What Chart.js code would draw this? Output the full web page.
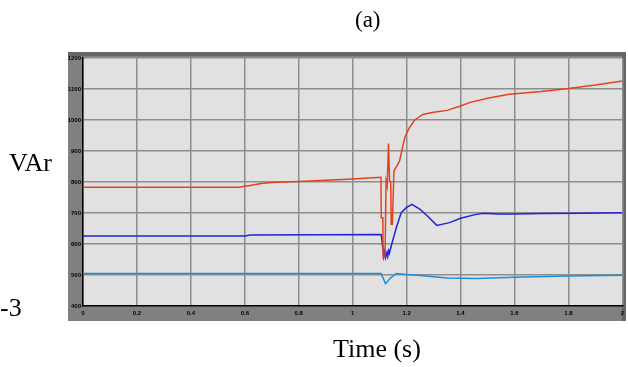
<!DOCTYPE html>
<html>
<head>
<meta charset="utf-8">
<script src="https://cdn.jsdelivr.net/npm/chart.js@4.4.0/dist/chart.umd.min.js"></script>
<style>
  html, body { margin: 0; padding: 0; background: #fff; }
  #wrap { position: relative; width: 628px; height: 367px; overflow: hidden; }
  #grafico { position: absolute; left: 0; top: 0; }
  .rotulo { position: absolute; font-family: "Liberation Serif", "Times New Roman", serif; color: #000; line-height: 1; white-space: nowrap; }
</style>
</head>
<body>
<div id="wrap">
  <canvas id="grafico" width="628" height="367"></canvas>
  <div class="rotulo" style="left:355px; top:8px; font-size:23px;">(a)</div>
  <div class="rotulo" style="left:9px; top:150px; font-size:26px;">VAr</div>
  <div class="rotulo" style="left:0px; top:295px; font-size:26px;">-3</div>
  <div class="rotulo" style="left:333px; top:336px; font-size:26px;">Time (s)</div>
</div>
<script>
// ===== DADOS =====
const xTicks = [0, 0.2, 0.4, 0.6, 0.8, 1, 1.2, 1.4, 1.6, 1.8, 2];
const yTicks = [400, 500, 600, 700, 800, 900, 1000, 1100, 1200];

// curva vermelha
const tempoVermelho = [0, 0.58, 0.6, 0.62, 0.66, 0.7, 0.8, 0.9, 1.0, 1.105, 1.106, 1.112, 1.113, 1.12, 1.124, 1.128, 1.133, 1.137, 1.141, 1.143, 1.147, 1.153, 1.174, 1.193, 1.21, 1.23, 1.26, 1.3, 1.35, 1.4, 1.433, 1.5, 1.58, 1.7, 1.8, 1.9, 2.0];
const valorVermelho = [783, 783, 786, 789, 795, 798, 802, 806, 810, 815, 685, 685, 556, 558, 803, 787, 924, 803, 800, 664, 664, 835, 868, 943, 975, 1000, 1018, 1025, 1031, 1045, 1056, 1070, 1083, 1092, 1102, 1113, 1126];

// curva azul
const tempoAzul = [0, 0.6, 0.62, 1.1, 1.106, 1.11, 1.115, 1.118, 1.122, 1.127, 1.13, 1.133, 1.136, 1.145, 1.162, 1.18, 1.2, 1.22, 1.25, 1.28, 1.312, 1.359, 1.4, 1.45, 1.483, 1.54, 1.6, 1.7, 1.85, 2.0];
const valorAzul = [626, 626, 629, 631, 630, 600, 560, 575, 556, 572, 560, 578, 570, 600, 653, 701, 718, 728, 712, 688, 660, 669, 683, 694, 699, 697, 697, 698, 699, 701];

// curva ciano
const tempoCiano = [0, 1.105, 1.122, 1.14, 1.162, 1.2, 1.25, 1.3, 1.35, 1.46, 1.6, 1.8, 2.0];
const valorCiano = [505, 505, 472, 490, 505, 502, 498, 494, 490, 489, 493, 497, 499];

const pontos = (xs, ys) => xs.map((x, i) => ({ x, y: ys[i] }));

// ===== FUNDO (moldura cinza + área do gráfico) =====
const fundoPlugin = {
  id: 'fundo',
  beforeDraw(chart) {
    const c = chart.ctx;
    const a = chart.chartArea;
    c.save();
    c.fillStyle = '#808080';
    c.fillRect(68, 52, 558, 269);
    c.fillStyle = '#666';
    c.fillRect(68, 52, 558, 4);
    c.fillRect(622, 52, 4, 269);
    c.fillStyle = '#e1e1e1';
    c.fillRect(a.left, a.top, a.right - a.left, a.bottom - a.top);
    c.restore();
  }
};

const ctx = document.getElementById('grafico');
new Chart(ctx, {
  type: 'line',
  data: {
    datasets: [
      { data: pontos(tempoVermelho, valorVermelho), borderColor: '#e2431e', borderWidth: 1.5 },
      { data: pontos(tempoAzul, valorAzul), borderColor: '#2222d6', borderWidth: 1.5 },
      { data: pontos(tempoCiano, valorCiano), borderColor: '#1c8fd6', borderWidth: 1.5 }
    ]
  },
  options: {
    responsive: false,
    animation: false,
    parsing: true,
    elements: { point: { radius: 0 }, line: { tension: 0 } },
    layout: { padding: { left: 68, right: 5, top: 58, bottom: 46 } },
    plugins: { legend: { display: false }, tooltip: { enabled: false }, title: { display: false } },
    scales: {
      x: {
        type: 'linear', min: 0, max: 2,
        afterBuildTicks: s => { s.ticks = xTicks.map(v => ({ value: v })); },
        afterFit: s => { s.height = 15; },
        ticks: { color: '#000', font: { family: 'Arial', size: 6, weight: 'bold' }, padding: 4, maxRotation: 0, callback: v => String(v) },
        grid: { color: '#8e8e8e', lineWidth: 1.5, drawTicks: false },
        border: { color: '#000', width: 1.5 }
      },
      y: {
        type: 'linear', min: 400, max: 1200,
        afterBuildTicks: s => { s.ticks = yTicks.map(v => ({ value: v })); },
        afterFit: s => { s.width = 15; },
        ticks: { color: '#000', font: { family: 'Arial', size: 6, weight: 'bold' }, padding: 2, callback: v => String(v) },
        grid: { color: '#8e8e8e', lineWidth: 1.5, drawTicks: false },
        border: { color: '#000', width: 1.5 }
      }
    }
  },
  plugins: [fundoPlugin]
});
</script>
</body>
</html>
